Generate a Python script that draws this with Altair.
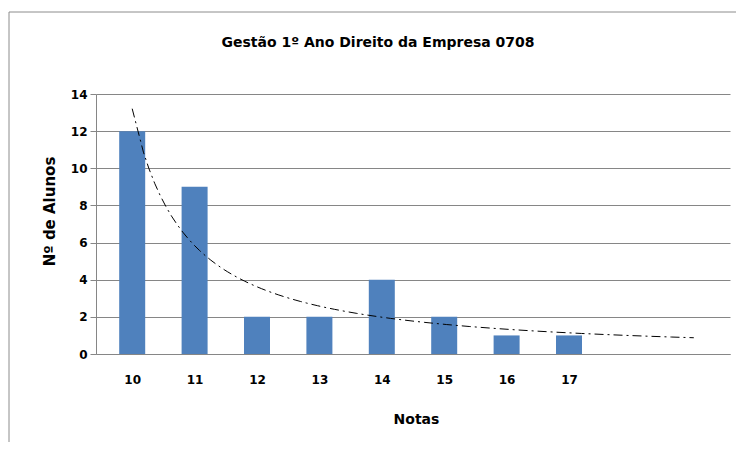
import altair as alt
import pandas as pd

titulo = "Gestão 1º Ano Direito da Empresa 0708"
notas = ["10", "11", "12", "13", "14", "15", "16", "17"]
alunos = [12, 9, 2, 2, 4, 2, 1, 1]
n_slots = 10  # the axis keeps two empty category slots after 17
y_ticks = [0, 2, 4, 6, 8, 10, 12, 14]

posicao = list(range(1, len(notas) + 1))
df = pd.DataFrame({"pos": posicao, "nota": notas, "alunos": alunos})

FONT = "DejaVu Sans"
GRAY = "#868686"
label_expr = "[" + ",".join(f"'{n}'" for n in notas) + "][datum.value - 1]"

x_enc = alt.X(
    "pos:Q",
    scale=alt.Scale(domain=[0.5, n_slots + 0.5], nice=False, zero=False),
    axis=alt.Axis(
        values=posicao, labelExpr=label_expr, title="Notas", grid=False,
        ticks=False, domainColor=GRAY, labelPadding=20, titlePadding=27,
        titleX=320, labelFontSize=12, labelFont=FONT, labelFontWeight="bold",
        labelColor="black", titleFont=FONT, titleFontSize=14, titleFontWeight="bold",
        titleColor="black", labelOverlap=False,
    ),
)
y_enc = alt.Y(
    "alunos:Q",
    scale=alt.Scale(domain=[0, 14], nice=False),
    axis=alt.Axis(
        values=y_ticks, title="Nº de Alunos", grid=True, gridColor=GRAY,
        domainColor=GRAY, tickColor=GRAY, tickSize=6, labelPadding=3,
        labelFontSize=12, labelFont=FONT, labelFontWeight="bold", labelColor="black",
        titleFont=FONT, titleFontSize=15, titleFontWeight="bold", titleColor="black",
        titlePadding=13, titleY=117, labelOverlap=False,
    ),
)

base = alt.Chart(df)

bars = base.mark_bar(color="#4F81BD", size=26).encode(x=x_enc, y=y_enc)

trend = (
    base.transform_regression("pos", "alunos", method="pow", extent=[1, n_slots])
    .mark_line(color="black", strokeWidth=1, strokeDash=[9, 4, 2, 4])
    .encode(x=x_enc, y=y_enc)
)

frame = (
    alt.Chart(pd.DataFrame({"k": [0]}))
    .mark_rect(filled=False, stroke="#8c8c8c", strokeWidth=1)
    .encode(x=alt.value(-87), x2=alt.value(900), y=alt.value(-82), y2=alt.value(600))
)

chart = (
    alt.layer(frame, bars, trend)
    .properties(
        width=634,
        height=260,
        title=alt.TitleParams(
            titulo, font=FONT, fontSize=14, fontWeight="bold", color="black",
            anchor="middle", offset=0, dx=-35, dy=38,
        ),
        autosize="none",
        padding={"left": 88, "top": 86, "right": 6, "bottom": 88},
    )
    .configure_view(stroke=None)
)

chart.save("out.html", embed_options={"renderer": "svg", "actions": False})
